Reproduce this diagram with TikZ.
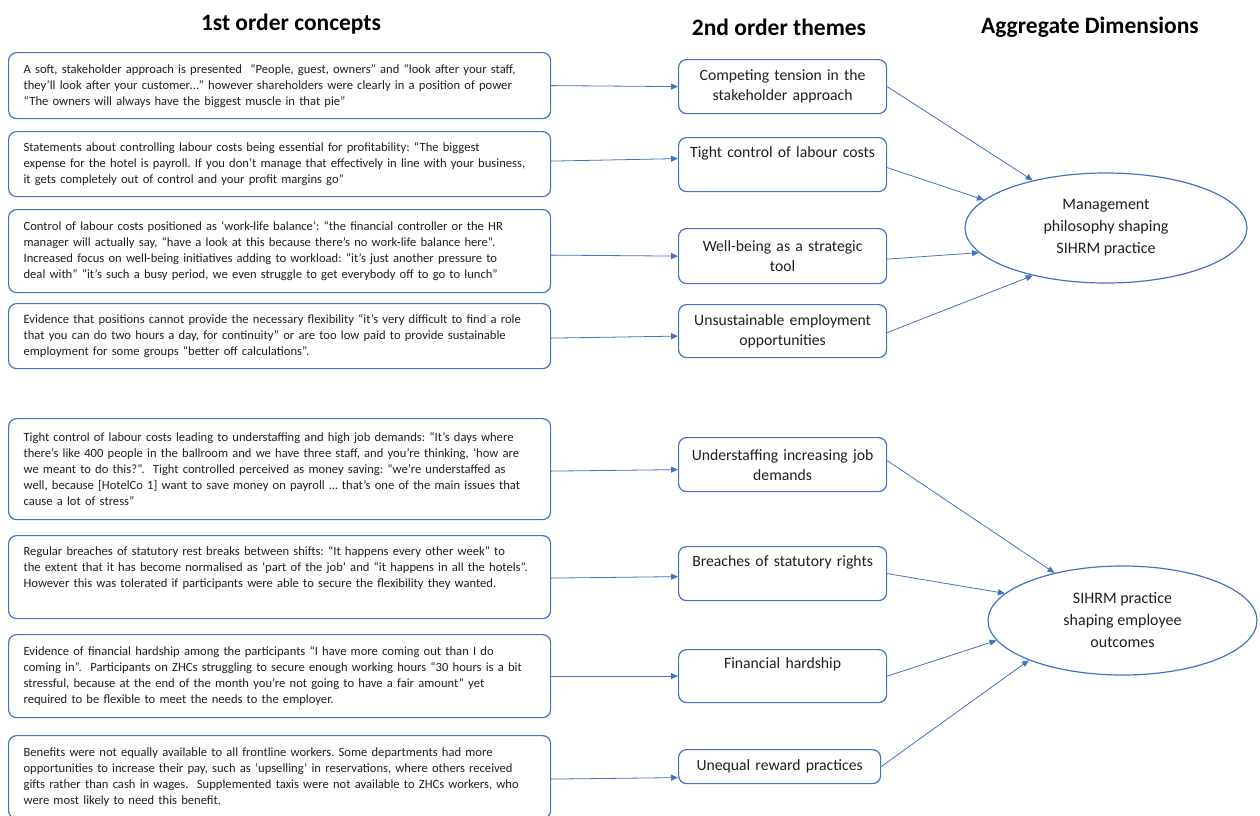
\documentclass[tikz,border=0pt]{standalone}
\usepackage{fontspec}
\setmainfont{Carlito}
\usetikzlibrary{arrows.meta,shapes.geometric}
\definecolor{obl}{HTML}{4472C4}
\definecolor{txt}{HTML}{1F1F1F}
\frenchspacing
\begin{document}
\begin{tikzpicture}[x=1pt,y=-1pt,
  lbox/.style={draw=obl, line width=1.2pt, rounded corners=8pt, anchor=north west, text width=512pt, inner xsep=15pt, inner ysep=0pt, align=left, font=\fontsize{12.6}{16}\selectfont, text=txt},
  mbox/.style={draw=obl, line width=1.2pt, rounded corners=8pt, anchor=north west, text width=196pt, inner xsep=6pt, inner ysep=0pt, align=center, font=\fontsize{15.7}{20}\selectfont, text=txt},
  ell/.style={draw=obl, line width=1.2pt, ellipse, inner sep=0pt, align=center, font=\fontsize{16}{22}\selectfont, text=txt},
  hdr/.style={font=\fontsize{23.5}{28}\selectfont\bfseries, text=black},
  arr/.style={draw=obl, line width=0.8pt, -{Triangle[length=7pt,width=6pt]}}
]
\useasboundingbox (0,0) rectangle (1260,815);

% headers
\node[hdr] (h1) at (291,24) {1st order concepts};
\node[hdr] (h2) at (779,27) {2nd order themes};
\node[hdr] (h3) at (1090,27) {Aggregate Dimensions};

% first order concepts
\node[lbox, minimum height=66pt] (l1) at (8,52) {A soft, stakeholder approach is presented\ \ “People, guest, owners” and “look after your staff,\\they’ll look after your customer…” however shareholders were clearly in a position of power\\“The owners will always have the biggest muscle in that pie”};
\node[lbox, minimum height=65pt] (l2) at (8,131) {Statements about controlling labour costs being essential for profitability: “The biggest\\expense for the hotel is payroll. If you don’t manage that effectively in line with your business,\\it gets completely out of control and your profit margins go”};
\node[lbox, minimum height=83pt] (l3) at (8,209) {Control of labour costs positioned as ‘work-life balance’: “the financial controller or the HR\\manager will actually say, “have a look at this because there’s no work-life balance here”.\\Increased focus on well-being initiatives adding to workload: “it’s just another pressure to\\deal with” “it’s such a busy period, we even struggle to get everybody off to go to lunch”};
\node[lbox, minimum height=65pt] (l4) at (8,303) {Evidence that positions cannot provide the necessary flexibility “it’s very difficult to find a role\\that you can do two hours a day, for continuity” or are too low paid to provide sustainable\\employment for some groups “better off calculations”.};
\node[lbox, minimum height=101pt] (l5) at (8,418) {Tight control of labour costs leading to understaffing and high job demands: “It’s days where\\there’s like 400 people in the ballroom and we have three staff, and you’re thinking, ‘how are\\we meant to do this?”.\ \ Tight controlled perceived as money saving: “we’re understaffed as\\well, because [HotelCo 1] want to save money on payroll … that’s one of the main issues that\\cause a lot of stress”};
\node[lbox, minimum height=83pt] (l6) at (8,535) {Regular breaches of statutory rest breaks between shifts: “It happens every other week” to\\the extent that it has become normalised as ‘part of the job’ and “it happens in all the hotels”.\\However this was tolerated if participants were able to secure the flexibility they wanted.\\\strut};
\node[lbox, minimum height=83pt] (l7) at (8,634) {Evidence of financial hardship among the participants “I have more coming out than I do\\coming in”.\ \ Participants on ZHCs struggling to secure enough working hours “30 hours is a bit\\stressful, because at the end of the month you’re not going to have a fair amount” yet\\required to be flexible to meet the needs to the employer.};
\node[lbox, minimum height=83pt] (l8) at (8,735) {Benefits were not equally available to all frontline workers. Some departments had more\\opportunities to increase their pay, such as ‘upselling’ in reservations, where others received\\gifts rather than cash in wages.\ \ Supplemented taxis were not available to ZHCs workers, who\\were most likely to need this benefit.};

% second order themes
\node[mbox, minimum height=54pt] (m1) at (678,59) {Competing tension in the\\stakeholder approach};
\node[mbox, minimum height=54pt] (m2) at (678,137) {Tight control of labour costs\\\strut};
\node[mbox, minimum height=55pt] (m3) at (678,228) {Well-being as a strategic\\tool};
\node[mbox, minimum height=53pt] (m4) at (678,304) {Unsustainable employment\\opportunities};
\node[mbox, minimum height=54pt] (m5) at (678,437) {Understaffing increasing job\\demands};
\node[mbox, minimum height=54pt] (m6) at (678,546) {Breaches of statutory rights\\\strut};
\node[mbox, minimum height=53pt] (m7) at (678,649) {Financial hardship\\\strut};
\node[mbox, minimum height=34pt, text width=190pt] (m8) at (678,749) {Unequal reward practices};

% aggregate dimensions
\node[ell, minimum width=282pt, minimum height=110pt] (e1) at (1106,228) {Management\\philosophy shaping\\SIHRM practice};
\node[ell, minimum width=269pt, minimum height=109pt] (e2) at (1122.5,620.5) {SIHRM practice\\shaping employee\\outcomes};

% connectors: concepts -> themes
\draw[arr] (l1.east) -- (m1.west);
\draw[arr] ([yshift=3pt]l2.east) -- ([yshift=6pt]m2.west);
\draw[arr] ([yshift=-4pt]l3.east) -- (m3.west);
\draw[arr] ([yshift=-2pt]l4.east) -- ([yshift=-5pt]m4.west);
\draw[arr] ([yshift=-2pt]l5.east) -- ([yshift=-5pt]m5.west);
\draw[arr] ([yshift=-1pt]l6.east) -- ([yshift=-3pt]m6.west);
\draw[arr] (l7.east) -- (m7.west);
\draw[arr] ([yshift=-2pt]l8.east) -- ([yshift=-11pt]m8.west);

% connectors: themes -> dimensions
\draw[arr] (m1.east) -- (e1.147.8);
\draw[arr] ([yshift=-3pt]m2.east) -- (e1.167.7);
\draw[arr] ([yshift=-3pt]m3.east) -- (e1.191.2);
\draw[arr] ([yshift=-1.5pt]m4.east) -- (e1.213.9);
\draw[arr] ([yshift=4pt]m5.east) -- (e2.145.5);
\draw[arr] (m6.east) -- (e2.167.8);
\draw[arr] (m7.east) -- (e2.189.9);
\draw[arr] (m8.east) -- (e2.203.3);
\end{tikzpicture}
\end{document}
